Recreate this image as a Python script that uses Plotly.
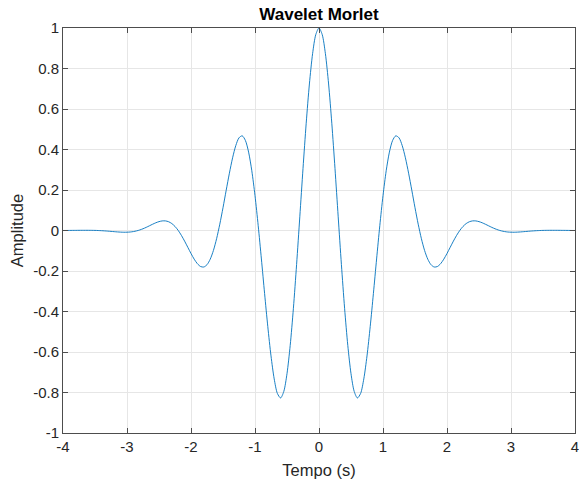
import plotly.graph_objects as go

# Time samples (s) and amplitude (symmetric about t = 0)
tempo = [round(-4 + 0.05 * i, 2) for i in range(161)]
amp_pos = [1.0, 0.9677, 0.8732, 0.7235, 0.5296, 0.3056, 0.0676, -0.1677, -0.3841, -0.5677,
           -0.7070, -0.7946, -0.8269, -0.8048, -0.7330, -0.6194, -0.4746, -0.3114, -0.1406, 0.0239,
           0.1721, 0.2951, 0.3870, 0.4446, 0.4674, 0.4577, 0.4195, 0.3590, 0.2830, 0.1989,
           0.1125, 0.0312, -0.0405, -0.0989, -0.1419, -0.1689, -0.1803, -0.1779, -0.1640, -0.1416,
           -0.1136, -0.0830, -0.0524, -0.0241, 0.0004, 0.0200, 0.0343, 0.0433, 0.0474, 0.0473,
           0.0438, 0.0381, 0.0309, 0.0232, 0.0155, 0.0086, 0.0027, -0.0019, -0.0053, -0.0074,
           -0.0084, -0.0086, -0.0080, -0.0070, -0.0057, -0.0044, -0.0030, -0.0019, -0.0009, -0.0001,
           0.0005, 0.0008, 0.0010, 0.0010, 0.0010, 0.0009, 0.0007, 0.0006, 0.0004, 0.0002,
           0.0001]
amplitude = amp_pos[:0:-1] + amp_pos

x_ticks = [-4, -3, -2, -1, 0, 1, 2, 3, 4]
y_ticks = [-1, -0.8, -0.6, -0.4, -0.2, 0, 0.2, 0.4, 0.6, 0.8, 1]
y_labels = ["-1", "-0.8", "-0.6", "-0.4", "-0.2", "0", "0.2", "0.4", "0.6", "0.8", "1"]

FONT = "Liberation Sans, Arial, sans-serif"

fig = go.Figure()
fig.add_trace(go.Scatter(x=tempo, y=amplitude, mode="lines",
                         line=dict(color="#0072BD", width=0.9, shape="spline", smoothing=0.8),
                         showlegend=False))

axis_common = dict(showline=True, linecolor="#4d4d4d", linewidth=1, mirror="ticks",
                   ticks="inside", ticklen=5, tickcolor="#4d4d4d",
                   showgrid=True, gridcolor="#e6e6e6", gridwidth=1, zeroline=False,
                   automargin=False, ticklabeloverflow="allow",
                   tickfont=dict(family=FONT, size=15, color="#262626"))

fig.update_layout(
    width=579, height=484,
    margin=dict(l=63, r=4, t=28, b=51),
    paper_bgcolor="white", plot_bgcolor="white",
    title=dict(text="<b>Wavelet Morlet</b>", x=0.5, xanchor="center", xref="paper",
               y=1 - 14 / 484, yanchor="middle",
               font=dict(family=FONT, size=17, color="black")),
    xaxis=dict(range=[-4, 4], tickvals=x_ticks, ticktext=[str(v) for v in x_ticks],
               title=dict(text="Tempo (s)", standoff=10,
                          font=dict(family=FONT, size=16.5, color="#262626")),
               **axis_common),
    yaxis=dict(range=[-1, 1], tickvals=y_ticks, ticktext=y_labels,
               title=dict(text="Amplitude", standoff=5,
                          font=dict(family=FONT, size=16.5, color="#262626")),
               **axis_common),
)

fig.write_html("out.html", config={"displayModeBar": False},
               post_script="document.body.style.margin='0';")
